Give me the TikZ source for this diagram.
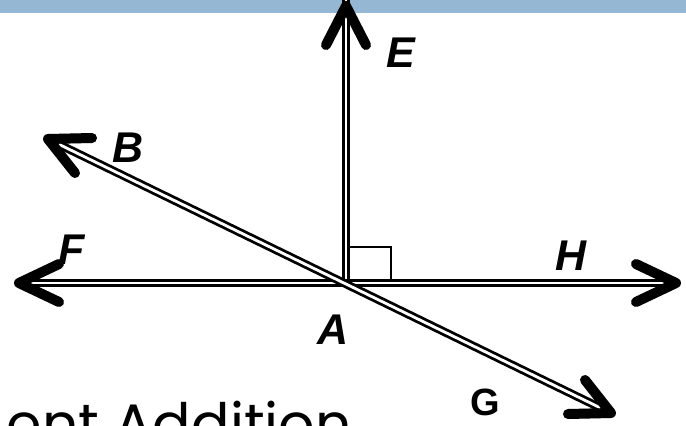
\documentclass[tikz,border=0pt]{standalone}
\usepackage{fontspec}
\usetikzlibrary{calc}
\setmainfont{Liberation Sans}
\newfontfamily\geofont{Poppins}
\definecolor{bandblue}{HTML}{95B7D3}
\begin{document}
\begin{tikzpicture}[x=1pt,y=-1pt,
  ray/.style={draw=black,line width=2.8pt,double=white,double distance=2.8pt},
  chev/.style={draw=black,line width=10pt,line cap=round,line join=round},
  chevshadow/.style={draw=black,opacity=0.15,line width=10pt,line cap=round,line join=round},
  lbl/.style={font=\fontsize{43}{43}\selectfont\bfseries\itshape,inner sep=0pt},
  rmark/.style={draw=black,line width=2.8pt}]
\useasboundingbox (0,0) rectangle (686,426);
\clip (0,0) rectangle (686,426);
\fill[bandblue] (0,0) rectangle (686,12.5);
% key points
\coordinate (A0) at (346,283);
\coordinate (Etip) at (346,6);
\coordinate (Ftip) at (19,283);
\coordinate (Htip) at (676,283);
\coordinate (Btip) at (48,139);
\coordinate (Gtip) at (611,413);
% shafts
\draw[ray] ([yshift=6]Etip) -- ([yshift=-4]A0);
\draw[ray] ([xshift=6]Ftip) -- ([xshift=-6]Htip);
\draw[ray] ($(Btip)!6pt!(Gtip)$) -- ($(Gtip)!6pt!(Btip)$);
% right angle mark
\coordinate (R1) at (350,247);
\coordinate (R2) at (391,247);
\coordinate (R3) at (391,281);
\draw[rmark] (R1) -- (R2) -- (R3);
% arrowhead shadows
\begin{scope}[shift={(1,5)}]
\draw[chevshadow] ([shift={(-20,39)}]Etip) -- (Etip) -- ([shift={(20,39)}]Etip);
\draw[chevshadow] ([shift={(40,-19)}]Ftip) -- (Ftip) -- ([shift={(40,19)}]Ftip);
\draw[chevshadow] ([shift={(-40,-19)}]Htip) -- (Htip) -- ([shift={(-40,19)}]Htip);
\draw[chevshadow] ([shift={(44,-1)}]Btip) -- (Btip) -- ([shift={(27,34)}]Btip);
\draw[chevshadow] ([shift={(-43,1)}]Gtip) -- (Gtip) -- ([shift={(-26,-33)}]Gtip);
\end{scope}
% arrowheads
\draw[chev] ([shift={(-20,39)}]Etip) -- (Etip) -- ([shift={(20,39)}]Etip);
\draw[chev] ([shift={(40,-19)}]Ftip) -- (Ftip) -- ([shift={(40,19)}]Ftip);
\draw[chev] ([shift={(-40,-19)}]Htip) -- (Htip) -- ([shift={(-40,19)}]Htip);
\draw[chev] ([shift={(44,-1)}]Btip) -- (Btip) -- ([shift={(27,34)}]Btip);
\draw[chev] ([shift={(-43,1)}]Gtip) -- (Gtip) -- ([shift={(-26,-33)}]Gtip);
% labels
\node[lbl] (E) at (401,53) {E};
\node[lbl] (B) at (128,148) {B};
\node[lbl] (F) at (72,250) {F};
\node[lbl] (H) at (571,256) {H};
\node[lbl] (A) at (333,330) {A};
\node[inner sep=0pt,font=\fontsize{38}{38}\selectfont\bfseries] (G) at (485,402) {G};
\node[anchor=base east,inner sep=0pt,font=\geofont\fontsize{57}{57}\selectfont] (T) at (352,444) {ent Addition};
\end{tikzpicture}
\end{document}
